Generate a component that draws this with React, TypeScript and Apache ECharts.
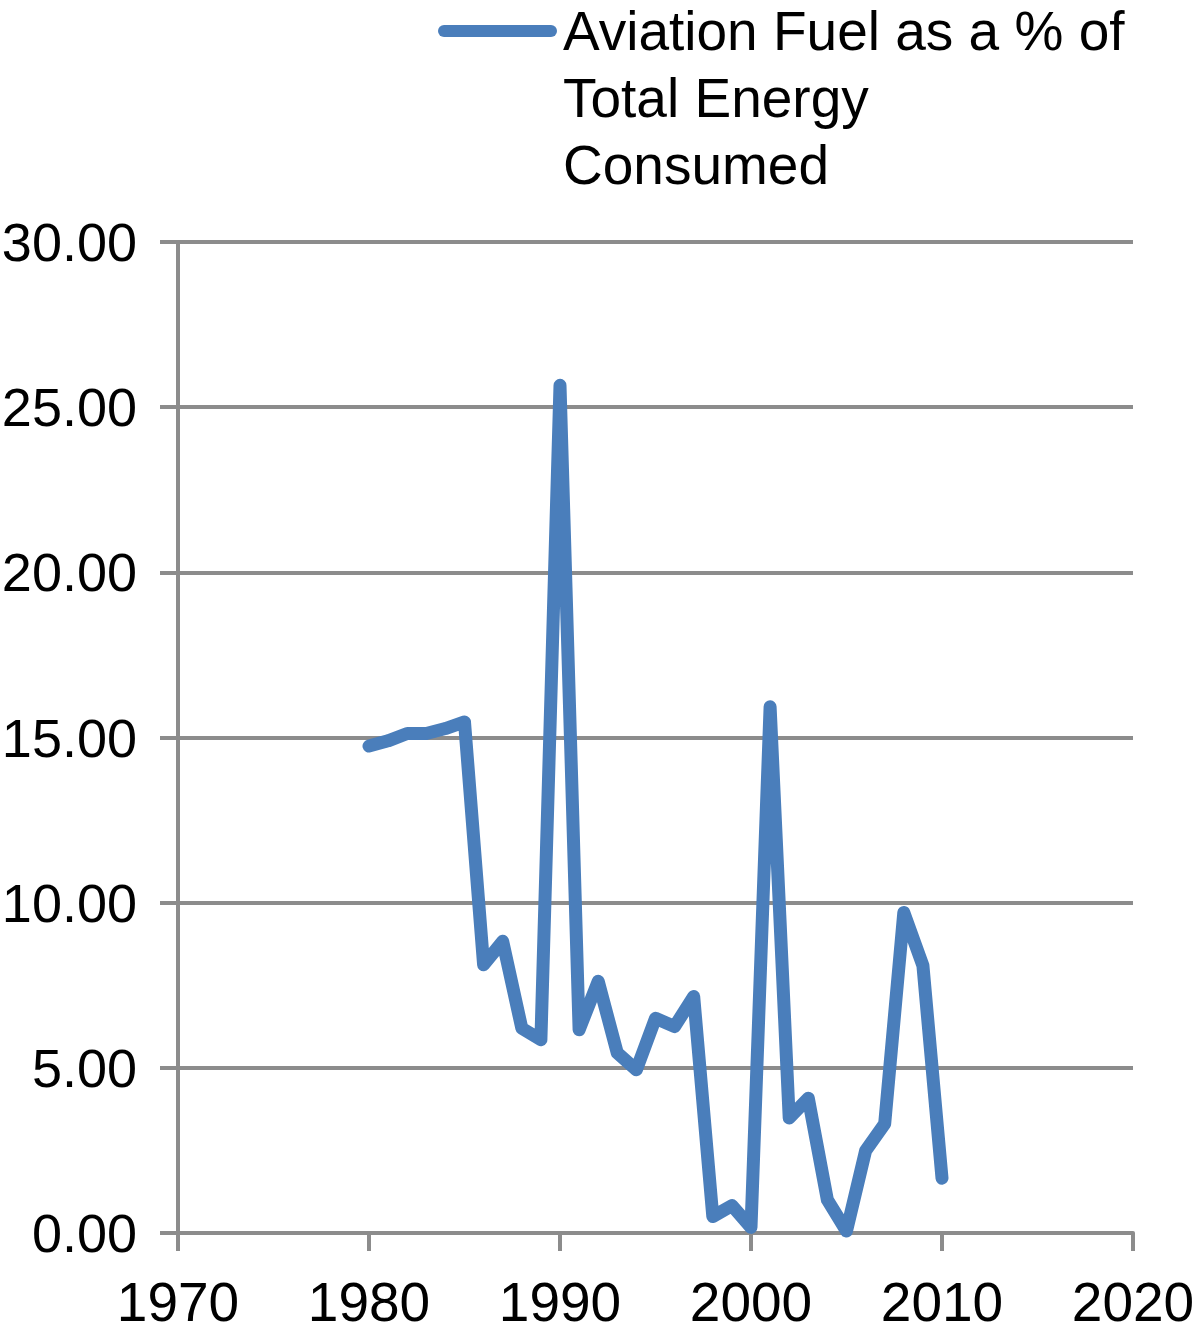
import React, { useEffect, useRef } from "react";
import * as echarts from "echarts";

const years = [
  1980, 1981, 1982, 1983, 1984, 1985, 1986, 1987, 1988, 1989,
  1990, 1991, 1992, 1993, 1994, 1995, 1996, 1997, 1998, 1999,
  2000, 2001, 2002, 2003, 2004, 2005, 2006, 2007, 2008, 2009, 2010,
];
const aviationFuelPct = [
  14.74, 14.9, 15.12, 15.12, 15.27, 15.47, 8.12, 8.83, 6.2, 5.85,
  25.66, 6.15, 7.62, 5.45, 4.94, 6.5, 6.25, 7.16, 0.5, 0.83,
  0.17, 15.93, 3.48, 4.08, 1.0, 0.06, 2.49, 3.31, 9.7, 8.1, 1.66,
];
const seriesName = "Aviation Fuel as a % of Total Energy Consumed";
const legendLines = ["Aviation Fuel as a % of", "Total Energy", "Consumed"];

const FONT = '"Liberation Sans", Arial, Helvetica, sans-serif';
const GRAY = "#8C8C8C";
const BLUE = "#4A7EBB";

export default function App() {
  const ref = useRef<HTMLDivElement>(null);
  useEffect(() => {
    if (!ref.current) return;
    const chart = echarts.init(ref.current, null, { renderer: "svg" });
    const data = years.map((y, i) => [y, aviationFuelPct[i]]);
    chart.setOption({
      animation: false,
      backgroundColor: "#ffffff",
      textStyle: { fontFamily: FONT },
      grid: {
        left: 178,
        right: 67,
        top: 242,
        bottom: 101,
        outerBoundsMode: "none",
      },
      xAxis: {
        type: "value",
        min: 1970,
        max: 2020,
        interval: 10,
        axisLine: { show: true, lineStyle: { color: GRAY, width: 4 } },
        axisTick: { show: true, length: 18, lineStyle: { color: GRAY, width: 4 } },
        splitLine: { show: false },
        axisLabel: {
          fontSize: 55,
          color: "#000",
          fontFamily: FONT,
          margin: 41,
          showMinLabel: true,
          showMaxLabel: true,
          formatter: (v: number) => String(v),
        },
      },
      yAxis: {
        type: "value",
        min: 0,
        max: 30,
        interval: 5,
        axisLine: { show: true, lineStyle: { color: GRAY, width: 4 } },
        axisTick: { show: true, length: 18, lineStyle: { color: GRAY, width: 4 } },
        splitLine: { show: true, lineStyle: { color: GRAY, width: 4 } },
        axisLabel: {
          fontSize: 54,
          color: "#000",
          fontFamily: FONT,
          margin: 41,
          formatter: (v: number) => v.toFixed(2),
        },
      },
      graphic: [
        {
          type: "line",
          shape: { x1: 444, y1: 31, x2: 551, y2: 31 },
          style: { stroke: BLUE, lineWidth: 12, lineCap: "round" },
        },
        ...legendLines.map((t, i) => ({
          type: "text",
          x: 563,
          y: 31 + i * 67,
          style: {
            text: t,
            fill: "#000",
            fontSize: 55,
            fontFamily: FONT,
            align: "left",
            verticalAlign: "middle",
          },
        })),
      ],
      series: [
        {
          name: seriesName,
          type: "line",
          data,
          showSymbol: false,
          symbol: "none",
          lineStyle: { color: BLUE, width: 13, cap: "round", join: "round" },
          itemStyle: { color: BLUE },
        },
      ],
    });
    return () => chart.dispose();
  }, []);
  return (
    <div
      ref={ref}
      style={{ position: "absolute", left: 0, top: 0, width: 1200, height: 1334 }}
    />
  );
}
